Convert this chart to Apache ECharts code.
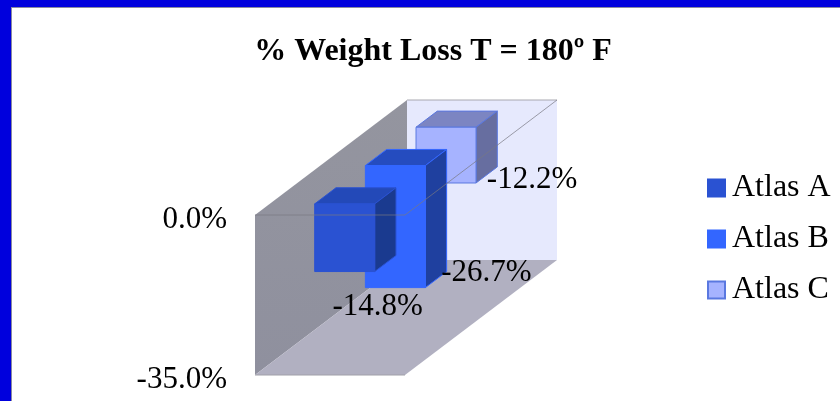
<!DOCTYPE html>
<html><head><meta charset="utf-8">
<style>
html,body{margin:0;padding:0;width:840px;height:401px;overflow:hidden;background:#0000dd}
#sheet{position:absolute;left:11px;top:7px;width:829px;height:394px;background:#fff;border-left:1px solid #8a8aa0;border-top:1px solid #8a8aa0;box-sizing:border-box}
#c{position:absolute;left:0;top:0;width:840px;height:401px}
</style>
<script src="https://cdn.jsdelivr.net/npm/echarts@6/dist/echarts.min.js"></script>
</head><body><div id="sheet"></div><div id="c"></div>
<script>
var categories = [''];
var seriesNames = ['Atlas A', 'Atlas B', 'Atlas C'];
var atlasA = [-14.8];
var atlasB = [-26.7];
var atlasC = [-12.2];
var yTicks = [0, -35];
var allValues = [atlasA, atlasB, atlasC];

var FONT = '"Liberation Serif", serif';
var DX = 152, DY = 115, SLOTS = 3, BAR_RATIO = 0.4, BAR_DEPTH = 0.14;
var faces = [
  {front:'#2a52d2', top:'#2349b8', side:'#1a3a8f', stroke:'#2a52d2'},
  {front:'#3366ff', top:'#254cbf', side:'#1f409f', stroke:'#3366ff'},
  {front:'#a6b3ff', top:'#7c85c2', side:'#676ea0', stroke:'#5a78e0'}
];
var labelShift = [[33, 35], [91, -15], [86, -3]];

function poly(points, fill, stroke, extra) {
  return {type:'polygon', shape:{points:points}, style:Object.assign({fill:fill, stroke:stroke||fill, lineWidth:1}, extra||{})};
}
function barSeries(i) {
  return {
    type:'custom', name:seriesNames[i], coordinateSystem:'cartesian2d', z:10 - i, clip:false,
    itemStyle:{color:faces[i].front, borderColor:faces[i].stroke, borderWidth:1},
    data:allValues[i].map(function(v, k){ return [categories[k], v]; }),
    renderItem:function(params, api){
      var zero = api.coord([api.value(0), 0]);
      var end = api.coord([api.value(0), api.value(1)]);
      var band = api.size([1, 0])[0];
      var w = band * BAR_RATIO;
      var d0 = ((i + 0.5) / SLOTS) - BAR_DEPTH / 2;
      var sx = DX * d0, sy = DY * d0, bx = DX * BAR_DEPTH, by = DY * BAR_DEPTH;
      var l = zero[0] - w / 2 + sx, r = l + w, t = zero[1] - sy, b = end[1] - sy;
      var f = faces[i];
      return {type:'group', children:[
        poly([[l,t],[l+bx,t-by],[r+bx,t-by],[r,t]], f.top, f.stroke),
        poly([[r,t],[r+bx,t-by],[r+bx,b-by],[r,b]], f.side, f.stroke),
        poly([[l,t],[r,t],[r,b],[l,b]], f.front, f.stroke),
        {type:'text', z2:50, style:{text:api.value(1).toFixed(1) + '%',
          x:(l + r) / 2 + labelShift[i][0], y:b + labelShift[i][1],
          align:'center', verticalAlign:'middle', font:'31px ' + FONT, fill:'#000'}}
      ]};
    }
  };
}
var wallSeries = {
  type:'custom', name:'walls', z:1, clip:false, silent:true, data:[[categories[0], yTicks[1]]],
  renderItem:function(params, api){
    var a = api.coord([api.value(0), yTicks[0]]), b = api.coord([api.value(0), yTicks[1]]);
    var band = api.size([1, 0])[0], l = a[0] - band / 2, r = a[0] + band / 2;
    return {type:'group', children:[
      poly([[l+DX,a[1]-DY],[r+DX,a[1]-DY],[r+DX,b[1]-DY],[l+DX,b[1]-DY]], '#e6e9fd', 'none'),
      {type:'polyline', shape:{points:[[l+DX,a[1]-DY],[r+DX,a[1]-DY]]}, style:{stroke:'#a8a8b0', fill:'none', lineWidth:1}},
      poly([[l,a[1]],[l+DX,a[1]-DY],[l+DX,b[1]-DY],[l,b[1]]],
        {type:'linear',x:0,y:0,x2:0,y2:1,colorStops:[{offset:0,color:'#94959f'},{offset:1,color:'#8f909e'}]}, 'none'),
      poly([[l,b[1]],[r,b[1]],[r+DX,b[1]-DY],[l+DX,b[1]-DY]], '#b1b0c1', 'none'),
      {type:'polyline', shape:{points:[[l,b[1]],[r,b[1]]]}, style:{stroke:'#a0a0a8', fill:'none', lineWidth:1}}
    ]};
  }
};
var zeroSeries = {
  type:'custom', name:'zero', z:20, clip:false, silent:true, data:[[categories[0], yTicks[0]]],
  renderItem:function(params, api){
    var a = api.coord([api.value(0), yTicks[0]]);
    var band = api.size([1, 0])[0], l = a[0] - band / 2, r = a[0] + band / 2;
    return {type:'polyline', shape:{points:[[l,a[1]],[r,a[1]],[r+DX,a[1]-DY]]},
      style:{stroke:'rgba(120,120,130,0.7)', fill:'none', lineWidth:1}};
  }
};

var chart = echarts.init(document.getElementById('c'), null, {renderer:'canvas'});
chart.setOption({
  backgroundColor:'transparent',
  animation:false,
  title:{text:'% Weight Loss T = 180º F', left:428, top:31, textAlign:'center',
    textStyle:{fontFamily:FONT, fontSize:32, fontWeight:'bold', color:'#000'}},
  grid:{left:255, top:215, width:150, height:160, containLabel:false},
  xAxis:{type:'category', data:categories, show:false},
  yAxis:{type:'value', min:yTicks[1], max:yTicks[0], interval:35,
    axisLine:{show:false}, axisTick:{show:false}, splitLine:{show:false},
    axisLabel:{margin:28, color:'#000',
      rich:{t:{fontFamily:FONT, fontSize:31, color:'#000', padding:[10,0,0,0]}},
      formatter:function(v){ return '{t|' + v.toFixed(1) + '%}'; }}},
  legend:{orient:'vertical', left:707, top:172, padding:0, itemWidth:17, itemHeight:17, itemGap:19,
    data:seriesNames.map(function(n){ return {name:n, icon:'rect'}; }),
    textStyle:{fontFamily:FONT, fontSize:32, color:'#000', padding:[0,0,0,2]}},
  series:[wallSeries, barSeries(2), barSeries(1), barSeries(0), zeroSeries]
});
</script></body></html>
